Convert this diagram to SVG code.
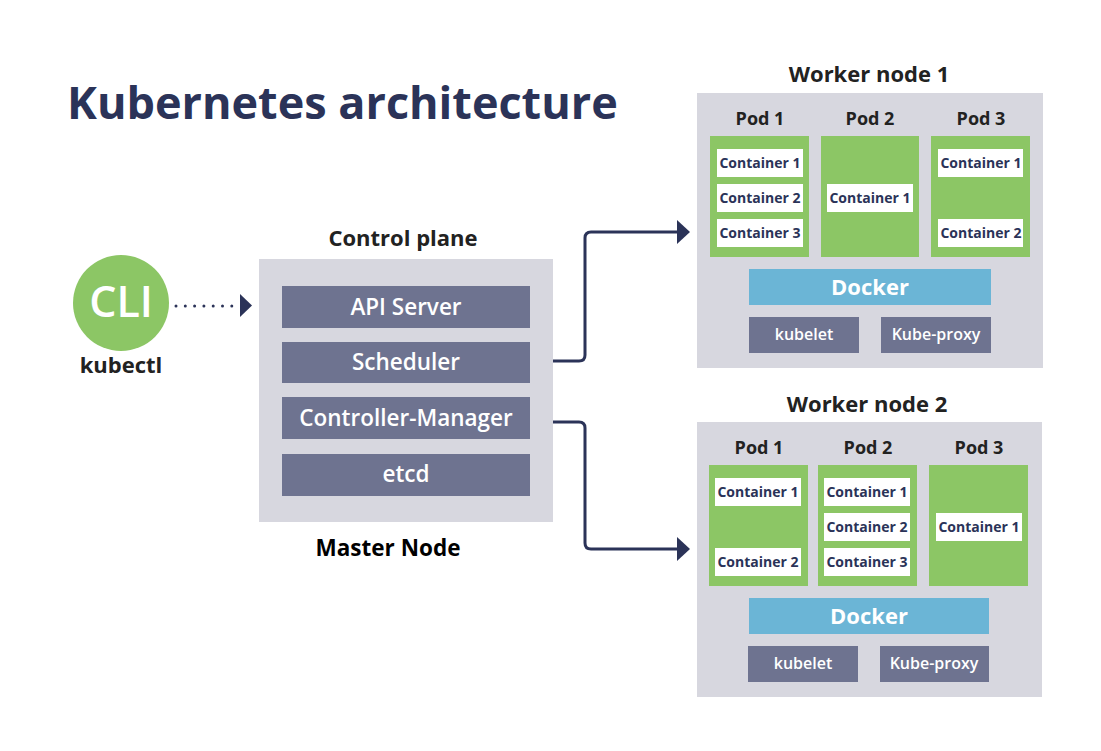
<svg xmlns="http://www.w3.org/2000/svg" width="1101" height="751" viewBox="0 0 1101 751">
<defs>
<style>
text{font-family:"Open Sans","Noto Sans","DejaVu Sans",sans-serif;font-weight:700;text-anchor:middle}
.title{font-size:45px;fill:#2b3358;text-anchor:start}
.hdr{font-size:22px;fill:#222}
.pod{font-size:18px;fill:#222}
.ctr{font-size:14px;fill:#2b3358}
.cpl{font-size:22.5px;fill:#fff;font-weight:600}
.dock{font-size:22px;fill:#fff}
.svc{font-size:16px;fill:#fff;font-weight:600}
.gbox{fill:#d7d7df}
.slate{fill:#6e7390}
.green{fill:#8cc665}
.white{fill:#fff}
.blue{fill:#6bb5d6}
.conn{fill:none;stroke:#2b3358;stroke-width:3}
</style>
<marker id="ah" markerWidth="14" markerHeight="28" refX="1" refY="14" orient="auto" markerUnits="userSpaceOnUse">
<path d="M0,2 L13,14 L0,26 Z" fill="#2b3358"/>
</marker>
</defs>
<rect width="1101" height="751" fill="#fff"/>
<text class="title" x="67" y="119">Kubernetes architecture</text>

<g id="cli">
<circle cx="121" cy="303" r="48" fill="#8cc665"/>
<text x="121" y="317" style="font-size:43px;fill:#fff;font-weight:600">CLI</text>
<text x="121" y="373" style="font-size:22px;fill:#222">kubectl</text>
</g>

<g id="control-plane">
<text class="hdr" x="403" y="246">Control plane</text>
<rect class="gbox" x="259" y="259" width="294" height="263"/>
<rect class="slate" x="282" y="286" width="248" height="42"/>
<text class="cpl" x="406" y="315">API Server</text>
<rect class="slate" x="282" y="342" width="248" height="41"/>
<text class="cpl" x="406" y="370">Scheduler</text>
<rect class="slate" x="282" y="397" width="248" height="42"/>
<text class="cpl" x="406" y="426">Controller-Manager</text>
<rect class="slate" x="282" y="454" width="248" height="42"/>
<text class="cpl" x="406" y="482">etcd</text>
<text x="388" y="556" style="font-size:22.5px;fill:#000">Master Node</text>
</g>

<g id="worker-node-1">
<text class="hdr" x="869" y="82">Worker node 1</text>
<rect class="gbox" x="697" y="93" width="346" height="275"/>
<text class="pod" x="760" y="125">Pod 1</text>
<text class="pod" x="870" y="125">Pod 2</text>
<text class="pod" x="981" y="125">Pod 3</text>
<rect class="green" x="710" y="136" width="99" height="121"/>
<rect class="green" x="821" y="136" width="98" height="121"/>
<rect class="green" x="931" y="136" width="99" height="121"/>
<rect class="white" x="717" y="149" width="86" height="28"/>
<text class="ctr" x="760" y="168">Container 1</text>
<rect class="white" x="717" y="184" width="86" height="28"/>
<text class="ctr" x="760" y="203">Container 2</text>
<rect class="white" x="717" y="219" width="86" height="28"/>
<text class="ctr" x="760" y="238">Container 3</text>
<rect class="white" x="827" y="184" width="86" height="28"/>
<text class="ctr" x="870" y="203">Container 1</text>
<rect class="white" x="938" y="149" width="85" height="28"/>
<text class="ctr" x="981" y="168">Container 1</text>
<rect class="white" x="938" y="219" width="85" height="28"/>
<text class="ctr" x="981" y="238">Container 2</text>
<rect class="blue" x="749" y="269" width="242" height="36"/>
<text class="dock" x="870" y="295">Docker</text>
<rect class="slate" x="749" y="317" width="110" height="36"/>
<text class="svc" x="804" y="340">kubelet</text>
<rect class="slate" x="881" y="317" width="110" height="36"/>
<text class="svc" x="936" y="340">Kube-proxy</text>
</g>

<g id="worker-node-2">
<text class="hdr" x="867" y="412">Worker node 2</text>
<rect class="gbox" x="697" y="422" width="345" height="275"/>
<text class="pod" x="759" y="454">Pod 1</text>
<text class="pod" x="868" y="454">Pod 2</text>
<text class="pod" x="979" y="454">Pod 3</text>
<rect class="green" x="709" y="465" width="99" height="121"/>
<rect class="green" x="818" y="465" width="99" height="121"/>
<rect class="green" x="929" y="465" width="99" height="121"/>
<rect class="white" x="715" y="478" width="86" height="28"/>
<text class="ctr" x="758" y="497">Container 1</text>
<rect class="white" x="715" y="548" width="86" height="28"/>
<text class="ctr" x="758" y="567">Container 2</text>
<rect class="white" x="824" y="478" width="86" height="28"/>
<text class="ctr" x="867" y="497">Container 1</text>
<rect class="white" x="824" y="513" width="86" height="28"/>
<text class="ctr" x="867" y="532">Container 2</text>
<rect class="white" x="824" y="548" width="86" height="28"/>
<text class="ctr" x="867" y="567">Container 3</text>
<rect class="white" x="936" y="513" width="86" height="28"/>
<text class="ctr" x="979" y="532">Container 1</text>
<rect class="blue" x="749" y="598" width="240" height="36"/>
<text class="dock" x="869" y="624">Docker</text>
<rect class="slate" x="748" y="646" width="110" height="36"/>
<text class="svc" x="803" y="669">kubelet</text>
<rect class="slate" x="880" y="646" width="109" height="36"/>
<text class="svc" x="934" y="669">Kube-proxy</text>
</g>

<g id="connectors">
<path d="M176,306 H232" fill="none" stroke="#2b3358" stroke-width="3" stroke-linecap="round" stroke-dasharray="0 9.3"/>
<path d="M240,294 L252,305.5 L240,317 Z" fill="#2b3358"/>
<path class="conn" d="M553,361 H579 Q585,361 585,355 V238 Q585,232 591,232 H678" marker-end="url(#ah)"/>
<path class="conn" d="M553,422 H579 Q585,422 585,428 V543 Q585,549 591,549 H678" marker-end="url(#ah)"/>
</g>
</svg>
